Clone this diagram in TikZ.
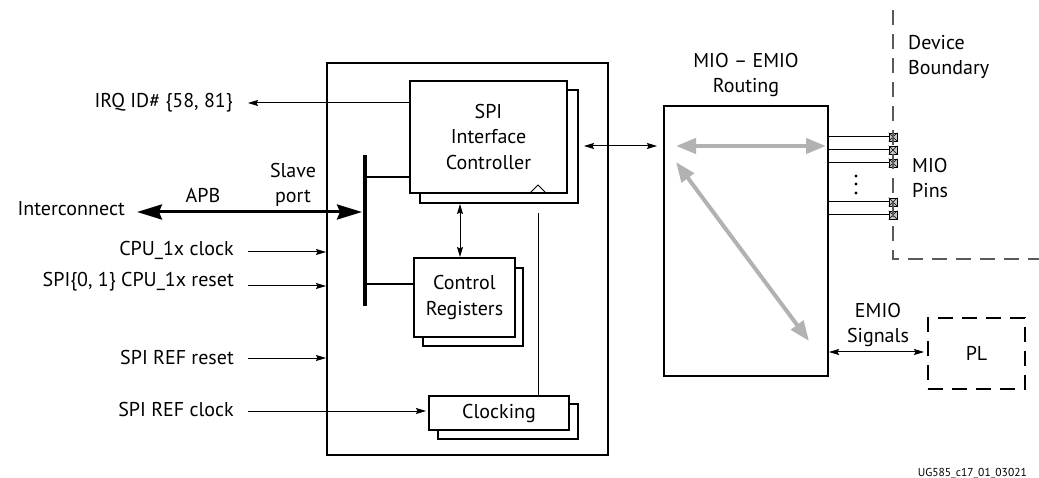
\documentclass[tikz,border=0pt]{standalone}
\usepackage{fontspec}
\setmainfont{PT Sans}
\usetikzlibrary{arrows.meta}
\begin{document}
\begin{tikzpicture}[x=1pt,y=-1pt,
  font=\fontsize{20}{25.5}\selectfont,
  box/.style={draw=black,line width=2pt,fill=white,inner sep=0pt,align=center},
  shadowbox/.style={draw=black,line width=2pt,fill=white,inner sep=0pt},
  sig/.style={line width=1pt,-{Stealth[length=10pt,width=6pt,inset=1.5pt]}},
  sigb/.style={line width=1pt,{Stealth[length=10pt,width=6pt,inset=1.5pt]}-{Stealth[length=10pt,width=6pt,inset=1.5pt]}},
  grayarr/.style={draw={rgb,255:red,178;green,178;blue,178},line width=4pt,
     {Triangle[length=20pt,width=15pt]}-{Triangle[length=20pt,width=15pt]}},
  lbl/.style={inner sep=0pt,align=center},
  pin/.style={draw=black,line width=0.7pt,fill={rgb,255:red,200;green,200;blue,200},minimum size=8pt,inner sep=0pt}
]
\useasboundingbox (0,0) rectangle (1039,478);
% outer box
\node[box,minimum width=281pt,minimum height=392pt,fill=none] (outer) at (467.5,259) {};
% controller
\node[shadowbox,minimum width=158pt,minimum height=113pt] (ctrlS) at (499,146.5) {};
\node[box,minimum width=157pt,minimum height=112pt] (ctrl) at (488.5,137) {SPI\\Interface\\Controller};
\draw[line width=1pt] (530,193) -- (538,185) -- (546,193);
% control registers
\node[shadowbox,minimum width=100pt,minimum height=78pt] (regsS) at (473,307) {};
\node[box,minimum width=101pt,minimum height=79pt] (regs) at (464.5,297.5) {Control\\Registers};
% clocking
\node[shadowbox,minimum width=140pt,minimum height=35pt] (clkS) at (508,421.5) {};
\node[box,minimum width=140pt,minimum height=34pt] (clk) at (499,413) {Clocking};
% bus
\coordinate (busT) at (365,155);
\coordinate (busB) at (365,306);
\draw[line width=3.5pt] (busT) -- (busB);
\draw[line width=2pt] (busT|-0,177) -- (ctrl.west|-0,177);
\draw[line width=2pt] (busT|-0,284) -- (regs.west|-0,284);
% interconnect
\node[lbl,anchor=base east] (ic) at (125,216) {Interconnect};
\node[lbl,anchor=base] (apb) at (203,203) {APB};
\node[lbl,anchor=base] (slave) at (293,203) {Slave\\port};
\coordinate (icL) at (137,212);
\coordinate (icR) at (362,212);
\draw[line width=3pt,{Stealth[length=25pt,width=15pt,inset=3pt]}-{Stealth[length=25pt,width=15pt,inset=3pt]}] (icL) -- (icR);
% IRQ
\node[lbl,anchor=base east] (irq) at (233,108) {IRQ ID\# \{58, 81\}};
\coordinate (irqE) at (248,103);
\draw[sig] (ctrl.west|-irqE) -- (irqE);
% inputs
\node[lbl,anchor=base east] (cpuclk) at (234,256) {CPU\_1x clock};
\node[lbl,anchor=base east] (cpurst) at (234,287) {SPI\{0, 1\} CPU\_1x reset};
\node[lbl,anchor=base east] (refrst) at (234,364) {SPI REF reset};
\node[lbl,anchor=base east] (refclk) at (234,416) {SPI REF clock};
\coordinate (a1) at (248,252);
\coordinate (a2) at (248,286);
\coordinate (a3) at (248,358);
\coordinate (a4) at (248,411);
\draw[sig] (a1) -- (outer.west|-a1);
\draw[sig] (a2) -- (outer.west|-a2);
\draw[sig] (a3) -- (outer.west|-a3);
\draw[sig] (a4) -- ([xshift=-2pt]clk.west|-a4);
% ctrl - regs
\draw[sigb] (ctrlS.south-|460,0) -- (regs.north-|460,0);
% clocking line
\coordinate (clkT) at (538,213);
\draw[line width=1pt] (clkT) -- (clk.north-|clkT);
% MIO box
\node[box,minimum width=164pt,minimum height=270pt] (mio) at (746,241) {};
\node[lbl,anchor=base] (miot) at (746,93) {MIO – EMIO\\Routing};
\draw[sigb] ([xshift=5pt]ctrlS.east|-0,146) -- ([xshift=-6pt]mio.west|-0,146);
\coordinate (g1) at (676,146);
\coordinate (g2) at (826,146);
\coordinate (g3) at (676,162);
\coordinate (g4) at (809,341);
\draw[grayarr] (g1) -- (g2);
\draw[grayarr] (g3) -- (g4);
% pins
\foreach \y/\n in {137/p1,150/p2,163/p3,202/p4,215/p5}{
  \node[pin] (\n) at (893,\y) {};
  \draw[line width=1pt] (mio.east|-\n) -- (\n.west);
  \draw[line width=0.6pt] (\n.north west) -- (\n.south east) (\n.north east) -- (\n.south west);
}
\foreach \y/\n in {176/d1,184/d2,193/d3}{
  \fill (856,\y) circle (1.7pt);
}
% device boundary
\coordinate (bT) at (893,10);
\coordinate (bC) at (893,259);
\coordinate (bR) at (1039,259);
\draw[line width=1.5pt,draw={rgb,255:red,90;green,90;blue,90},dash pattern=on 15pt off 9pt] (bT) -- (bC) -- (bR);
\node[lbl,anchor=base west,align=left] (dev) at (908,75) {Device\\Boundary};
\node[lbl,anchor=base west,align=left] (miop) at (912,198) {MIO\\Pins};
% PL
\node[box,fill=none,dash pattern=on 15pt off 9pt,minimum width=97pt,minimum height=71pt] (pl) at (976.5,353.5) {PL};
\node[lbl,anchor=base] (emio) at (878,343) {EMIO\\Signals};
\draw[sigb] (mio.east|-0,352) -- ([xshift=-3pt]pl.west|-0,352);
% figure id
\node[lbl,anchor=base east,font=\fontsize{11.5}{13}\selectfont] (fid) at (1027,476) {UG585\_c17\_01\_03021};
\end{tikzpicture}
\end{document}
